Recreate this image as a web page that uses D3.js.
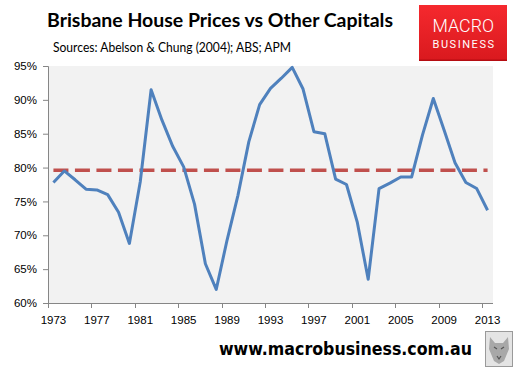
<!DOCTYPE html>
<html>
<head>
<meta charset="utf-8">
<script src="https://cdn.jsdelivr.net/npm/d3@7"></script>
<style>
  body { margin: 0; background: #fff; }
  svg { display: block; }
</style>
</head>
<body>
<div id="chart"></div>
<script>
// data (Brisbane house prices as % of other capitals)
var years = d3.range(1973, 2014)
var ratio = [77.8, 79.5, 78.2, 76.8, 76.7, 76.0, 73.4, 68.8, 77.9, 91.5,
  87.0, 83.1, 80.1, 74.6, 65.8, 62.0, 69.3, 75.9, 83.8, 89.3,
  91.7, 93.2, 94.8, 91.6, 85.3, 85.0, 78.3, 77.5, 71.9, 63.5,
  76.9, 77.7, 78.6, 78.6, 84.8, 90.2, 85.5, 80.7, 77.8, 76.9, 73.7]
var average = [79.6]
var yTicks = [60, 65, 70, 75, 80, 85, 90, 95]
var labelYears = [1973, 1977, 1981, 1985, 1989, 1993, 1997, 2001, 2005, 2009, 2013]

var W = 518, H = 376
var plot = { left: 48, right: 493, top: 66, bottom: 303 }

var svg = d3.select("#chart").append("svg")
  .attr("width", W)
  .attr("height", H)

// plot area background
svg.append("rect")
  .attr("x", plot.left)
  .attr("y", plot.top)
  .attr("width", plot.right - plot.left)
  .attr("height", plot.bottom - plot.top)
  .style("fill", "#f2f2f2")

var x = d3.scaleBand()
  .domain(years)
  .range([plot.left, plot.right])
  .padding(0)
var bw = x.bandwidth()

var y = d3.scaleLinear()
  .domain([60, 95])
  .range([plot.bottom, plot.top])

// Y axis
var yAxis = svg.append("g")
  .attr("transform", "translate(" + plot.left + ",0)")
  .call(d3.axisLeft(y).tickValues(yTicks).tickSize(5).tickPadding(6)
    .tickFormat(function (d) { return d + "%" }))
yAxis.select(".domain").attr("stroke", "#868686")
yAxis.selectAll(".tick line").attr("stroke", "#868686")
yAxis.selectAll("text")
  .style("font-family", "'Liberation Sans', Arial, sans-serif")
  .style("font-size", "11.5px")
  .attr("fill", "#000")

// X axis: labels at category centres, ticks between categories
var xAxis = svg.append("g")
  .attr("transform", "translate(0," + plot.bottom + ")")
  .call(d3.axisBottom(x).tickValues(labelYears).tickSize(0).tickPadding(13))
xAxis.select(".domain").attr("stroke", "#868686").attr("d", "M" + plot.left + ",0.5H" + plot.right)
xAxis.selectAll("text")
  .style("font-family", "'Liberation Sans', Arial, sans-serif")
  .style("font-size", "11.5px")
  .attr("fill", "#000")
xAxis.selectAll("line.tk")
  .data(labelYears)
  .enter()
  .append("line")
  .attr("class", "tk")
  .attr("x1", function (d) { return Math.round(x(d)) + 0.5 })
  .attr("x2", function (d) { return Math.round(x(d)) + 0.5 })
  .attr("y1", 0)
  .attr("y2", 5)
  .attr("stroke", "#868686")

// average dashed line
svg.selectAll("line.avg")
  .data(average)
  .enter()
  .append("line")
  .attr("class", "avg")
  .attr("x1", x(years[0]) + bw / 2)
  .attr("x2", x(years[years.length - 1]) + bw / 2)
  .attr("y1", function (d) { return y(d) })
  .attr("y2", function (d) { return y(d) })
  .attr("stroke", "#c0504d")
  .attr("stroke-width", 3.5)
  .attr("stroke-dasharray", "15,6.5")

// main series
var line = d3.line()
  .x(function (d, i) { return x(years[i]) + bw / 2 })
  .y(function (d) { return y(d) })
svg.append("path")
  .datum(ratio)
  .attr("d", line)
  .attr("fill", "none")
  .attr("stroke", "#4f81bd")
  .attr("stroke-width", 3)
  .attr("stroke-linejoin", "round")

// titles
svg.append("text")
  .attr("x", 47)
  .attr("y", 27)
  .attr("textLength", 346)
  .attr("lengthAdjust", "spacingAndGlyphs")
  .style("font-family", "Lato, 'Open Sans', sans-serif")
  .style("font-weight", "bold")
  .style("font-size", "19px")
  .text("Brisbane House Prices vs Other Capitals")

svg.append("text")
  .attr("x", 53)
  .attr("y", 52)
  .attr("textLength", 238)
  .attr("lengthAdjust", "spacingAndGlyphs")
  .style("font-family", "Lato, 'Open Sans', sans-serif")
  .style("font-size", "12.5px")
  .text("Sources: Abelson & Chung (2004); ABS; APM")

// logo
var defs = svg.append("defs")
var grad = defs.append("linearGradient")
  .attr("id", "logoGrad")
  .attr("x1", 0).attr("y1", 0).attr("x2", 0).attr("y2", 1)
grad.append("stop").attr("offset", "0%").attr("stop-color", "#f5292e")
grad.append("stop").attr("offset", "100%").attr("stop-color", "#d9191e")

svg.append("rect")
  .attr("x", 419)
  .attr("y", 5)
  .attr("width", 88)
  .attr("height", 56)
  .style("fill", "url(#logoGrad)")
svg.append("rect")
  .attr("x", 419)
  .attr("y", 59.5)
  .attr("width", 88)
  .attr("height", 1.5)
  .style("fill", "#b50d12")
svg.append("text")
  .attr("x", 432.5)
  .attr("y", 31.5)
  .attr("textLength", 61.5)
  .attr("lengthAdjust", "spacingAndGlyphs")
  .style("font-family", "Roboto, 'Open Sans', sans-serif")
  .style("font-weight", 300)
  .style("font-size", "18.5px")
  .attr("fill", "#fff")
  .text("MACRO")
svg.append("text")
  .attr("x", 432.5)
  .attr("y", 47.5)
  .attr("textLength", 61.5)
  .attr("lengthAdjust", "spacing")
  .style("font-family", "Roboto, 'Open Sans', sans-serif")
  .style("font-size", "11px")
  .attr("fill", "#fff")
  .text("BUSINESS")

// footer
svg.append("text")
  .attr("x", 219)
  .attr("y", 354.5)
  .attr("textLength", 253)
  .attr("lengthAdjust", "spacingAndGlyphs")
  .style("font-family", "'DejaVu Sans', Verdana, sans-serif")
  .style("font-weight", "bold")
  .style("font-size", "17.5px")
  .text("www.macrobusiness.com.au")

// small wolf badge
var badge = svg.append("g").attr("transform", "translate(485,331)")
badge.append("rect")
  .attr("x", 0.5).attr("y", 0.5)
  .attr("width", 27).attr("height", 35)
  .attr("fill", "#e4e4e4")
  .attr("stroke", "#9a9a9a")
badge.append("path")
  .attr("d", "M5,6 L10,12 L18,12 L23,6 L24,18 L19,30 L14,33 L9,30 L4,18 Z")
  .attr("fill", "#a8a8a8")
badge.append("path")
  .attr("d", "M9,16 L12,18 M19,16 L16,18 M12,25 L14,28 L16,25")
  .attr("stroke", "#555")
  .attr("stroke-width", 1.2)
  .attr("fill", "none")
</script>
</body>
</html>
